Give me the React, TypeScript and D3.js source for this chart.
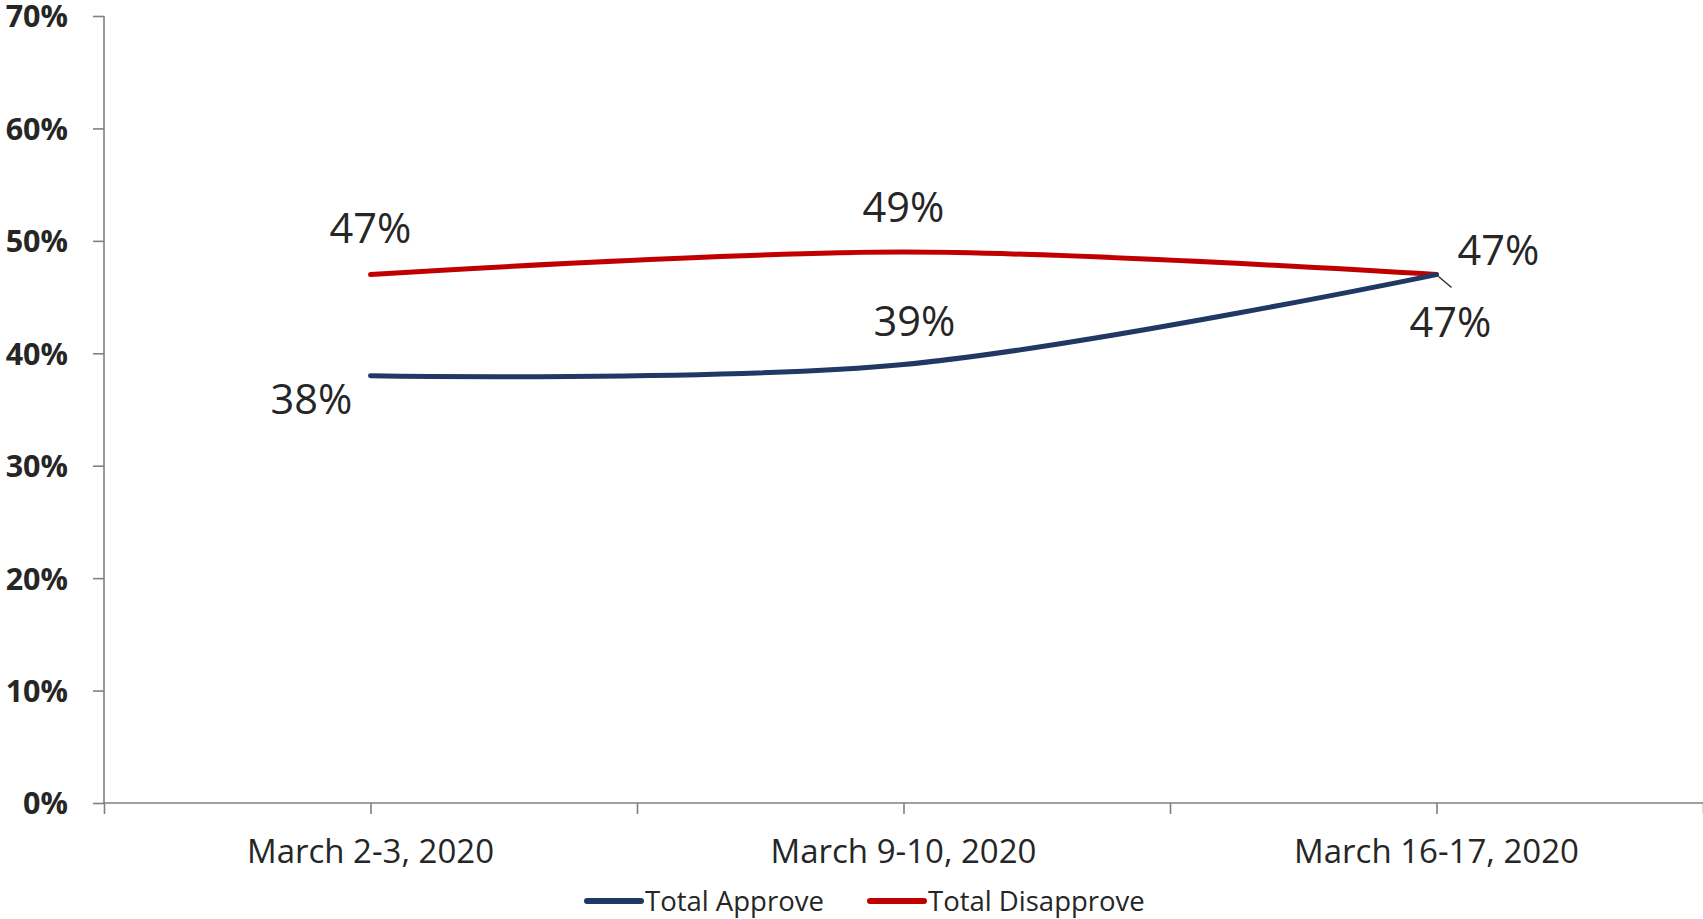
import React, { useEffect, useRef } from "react";
import * as d3 from "d3";

// data
const categories = ["March 2-3, 2020", "March 9-10, 2020", "March 16-17, 2020"];
const approve = [0.38, 0.39, 0.47];
const disapprove = [0.47, 0.49, 0.47];
const yTicks = [0, 0.1, 0.2, 0.3, 0.4, 0.5, 0.6, 0.7];
const seriesNames = ["Total Approve", "Total Disapprove"];

// label offsets from each point (layout only)
const approveLabelOffset = [[-59, 38], [11, -29], [14, 62]];
const disapproveLabelOffset = [[0, -32], [0, -30], [62, -10]];

const BLUE = "#1F3864";
const RED = "#C00000";
const TEXT = "#262626";
const AXIS = "#808080";
const FONT = "'Open Sans', sans-serif";

const App = () => {
  const svgRef = useRef<SVGSVGElement>(null);

  useEffect(() => {
    const svg = d3.select(svgRef.current);
    svg.selectAll("*").remove();

    const width = 1703, height = 919;
    const left = 104, right = 1703, top = 16, bottom = 803;

    const x = d3.scaleLinear().domain([-0.5, categories.length - 0.5]).range([left, right]);
    const y = d3.scaleLinear().domain([0, 0.7]).range([bottom, top]);

    // y axis
    const yAxis = svg.append("g").attr("transform", `translate(${left},0)`)
      .call(d3.axisLeft(y).tickValues(yTicks).tickSize(11).tickFormat(d3.format(".0%")));
    yAxis.select(".domain").attr("stroke", AXIS).attr("stroke-width", 1.6)
      .attr("d", `M0,${top}V${bottom}`);
    yAxis.selectAll(".tick line").attr("stroke", AXIS).attr("stroke-width", 1.6);
    yAxis.selectAll(".tick text")
      .attr("x", -36)
      .attr("dy", "0.36em")
      .attr("fill", TEXT)
      .style("font-family", FONT)
      .style("font-weight", "bold")
      .style("font-size", "30.5px");

    // x axis (ticks on categories and between them)
    const xTickVals = d3.range(-0.5, categories.length, 0.5);
    const xAxis = svg.append("g").attr("transform", `translate(0,${bottom})`)
      .call(d3.axisBottom(x).tickValues(xTickVals).tickSize(11).tickFormat(() => ""));
    xAxis.select(".domain").attr("stroke", AXIS).attr("stroke-width", 1.6)
      .attr("d", `M${left},0H${right}`);
    xAxis.selectAll(".tick line").attr("stroke", AXIS).attr("stroke-width", 1.6);

    svg.append("g").selectAll("text")
      .data(categories)
      .join("text")
      .attr("x", (d, i) => x(i))
      .attr("y", 863)
      .attr("text-anchor", "middle")
      .attr("fill", TEXT)
      .style("font-family", FONT)
      .style("font-size", "33px")
      .text(d => d);

    const line = d3.line<number>()
      .x((d, i) => x(i))
      .y(d => y(d))
      .curve(d3.curveCatmullRom.alpha(0.5));

    svg.append("path")
      .datum(disapprove)
      .attr("fill", "none")
      .attr("stroke", RED)
      .attr("stroke-width", 5)
      .attr("stroke-linecap", "round")
      .attr("d", line);

    svg.append("path")
      .datum(approve)
      .attr("fill", "none")
      .attr("stroke", BLUE)
      .attr("stroke-width", 5)
      .attr("stroke-linecap", "round")
      .attr("d", line);

    // leader line for last approve label
    const li = approve.length - 1;
    svg.append("line")
      .attr("x1", x(li) + 2).attr("y1", y(approve[li]) + 2)
      .attr("x2", x(li) + 15).attr("y2", y(approve[li]) + 13)
      .attr("stroke", TEXT)
      .attr("stroke-width", 1.3);

    const labels = (vals: number[], offs: number[][]) =>
      svg.append("g").selectAll("text")
        .data(vals)
        .join("text")
        .attr("x", (d, i) => x(i) + offs[i][0])
        .attr("y", (d, i) => y(d) + offs[i][1])
        .attr("text-anchor", "middle")
        .attr("fill", TEXT)
        .style("font-family", FONT)
        .style("font-size", "41.5px")
        .text(d => d3.format(".0%")(d));

    labels(disapprove, disapproveLabelOffset);
    labels(approve, approveLabelOffset);

    // legend
    const legend = svg.append("g");
    const legendX = [587, 870];
    const colors = [BLUE, RED];
    seriesNames.forEach((name, i) => {
      legend.append("line")
        .attr("x1", legendX[i]).attr("x2", legendX[i] + 54)
        .attr("y1", 901).attr("y2", 901)
        .attr("stroke", colors[i])
        .attr("stroke-width", 6)
        .attr("stroke-linecap", "round");
      legend.append("text")
        .attr("x", legendX[i] + 58)
        .attr("y", 911)
        .attr("fill", TEXT)
        .style("font-family", FONT)
        .style("font-size", "27.5px")
        .text(name);
    });

    svg.attr("width", width).attr("height", height);
  }, []);

  return (
    <svg
      ref={svgRef}
      width={1703}
      height={919}
      style={{ position: "absolute", left: 0, top: 0, background: "#fff" }}
    />
  );
};

export default App;
